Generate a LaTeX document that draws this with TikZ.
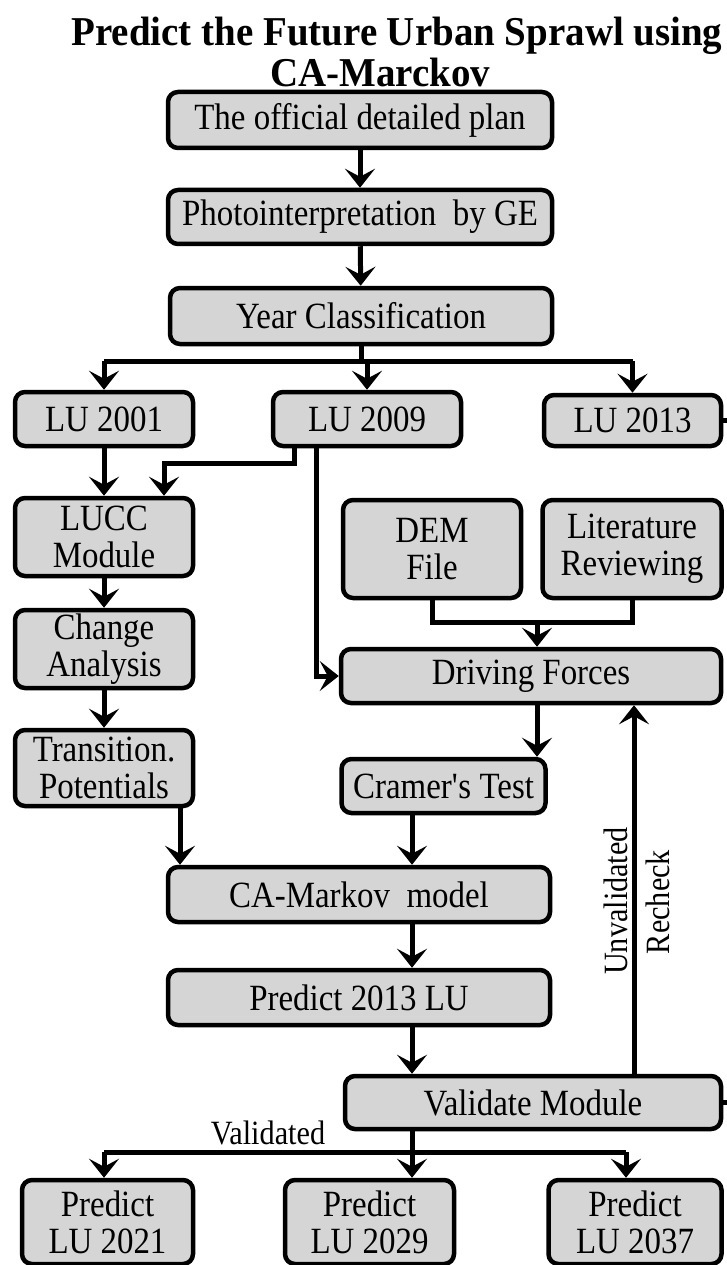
\documentclass[tikz,border=0pt]{standalone}
\usepackage{fontspec}
\setmainfont{Liberation Serif}[FakeStretch=0.89]
\newfontfamily\titlefont{Liberation Serif}[FakeStretch=0.95]
\usetikzlibrary{arrows.meta}
\definecolor{boxgray}{RGB}{213,213,213}
\begin{document}
\begin{tikzpicture}[x=1pt,y=-1pt,
  box/.style={draw, line width=4.5pt, rounded corners=10pt, fill=boxgray, align=center,
    font=\fontsize{37}{37}\selectfont, inner sep=0pt},
  sz/.style 2 args={minimum width=#1pt, minimum height=#2pt},
  conn/.style={line width=5pt},
  arr/.style={conn, -{Stealth[length=19pt,width=30pt,inset=8pt]}},
  lab/.style={font=\fontsize{34}{36}\selectfont, inner sep=0pt},
  ttl/.style={font=\titlefont\fontsize{41}{42}\selectfont\bfseries, inner sep=0pt, anchor=base}]
\useasboundingbox (0,0) rectangle (726,1265);

% title
\node[ttl] (t1) at (397,46) {Predict the Future Urban Sprawl using};
\node[ttl] (t2) at (380,87) {CA-Marckov};

% boxes
\node[box, sz={384}{56}] (A) at (360,120) {The official detailed plan};
\node[box, sz={384}{54}] (B) at (360,217) {Photointerpretation\ \ by GE};
\node[box, sz={382}{56}] (C) at (361,316) {Year Classification};
\node[box, sz={178}{54}] (L01) at (104,419) {LU 2001};
\node[box, sz={188}{54}] (L09) at (367,419) {LU 2009};
\node[box, sz={177}{51}] (L13) at (632.5,420.5) {LU 2013};
\node[box, sz={178}{78}] (LUCC) at (104,537) {LUCC\\Module};
\node[box, sz={178}{78}] (CH) at (104,649) {Change\\Analysis};
\node[box, sz={178}{76}] (TP) at (104,768) {Transition.\\Potentials};
\node[box, sz={178}{98}] (DEM) at (432,549) {DEM\\File};
\node[box, sz={179}{98}] (LIT) at (632,549) {Literature\\Reviewing};
\node[box, sz={380}{54}] (DF) at (531,676) {Driving Forces};
\node[box, sz={204}{54}] (CR) at (443.5,786) {Cramer\textquotesingle s Test};
\node[box, sz={382}{55}] (CAM) at (359,894.5) {CA-Markov\ \ model};
\node[box, sz={382}{55}] (P13) at (359,997.5) {Predict 2013 LU};
\node[box, sz={376}{53}] (VAL) at (533,1102.5) {Validate Module};
\node[box, sz={171}{84}] (P21) at (107.5,1222) {Predict\\LU 2021};
\node[box, sz={169}{84}] (P29) at (369.5,1222) {Predict\\LU 2029};
\node[box, sz={173}{84}] (P37) at (635,1222) {Predict\\LU 2037};

% helper coordinates
\coordinate (br1) at (363,361);
\coordinate (j1) at (294,463);
\coordinate (j2) at (164,463);
\coordinate (j3) at (316,680);
\coordinate (j4) at (537,622);
\coordinate (x180) at (180,0);
\coordinate (x412) at (412,0);
\coordinate (x634) at (634,0);
\coordinate (br2) at (412,1152);
\coordinate (x104) at (104,0);
\coordinate (x626) at (626,0);

% connectors
\draw[arr] (A) -- (B);
\draw[arr] (B) -- (C);
\draw[conn] (C.south) -- (C.south |- br1);
\draw[conn] (L01.north |- br1) -- (L13.north |- br1);
\draw[arr] (L01.north |- br1) -- (L01.north);
\draw[arr] (L09.north |- br1) -- (L09.north);
\draw[arr] (L13.north |- br1) -- (L13.north);
\draw[arr] (L01) -- (LUCC);
\draw[arr] (L09.south -| j1) -- (j1) -- (j2) -- (LUCC.north -| j2);
\draw[arr] (L09.south -| j3) |- (DF.west);
\draw[arr] (LUCC) -- (CH);
\draw[arr] (CH) -- (TP);
\draw[conn] (DEM.south) |- (LIT.south |- j4) -- (LIT.south);
\draw[arr] (j4) -- (DF.north -| j4);
\draw[arr] (DF.south -| j4) -- (CR.north -| j4);
\draw[arr] (CR.south -| x412) -- (CAM.north -| x412);
\draw[arr] (TP.south -| x180) -- (CAM.north -| x180);
\draw[arr] (CAM.south -| x412) -- (P13.north -| x412);
\draw[arr] (P13.south -| x412) -- (VAL.north -| x412);
\draw[arr] (VAL.north -| x634) -- (DF.south -| x634);
\draw[conn] (VAL.south -| br2) -- (br2);
\draw[conn] (x104 |- br2) -- (x626 |- br2);
\draw[arr] (x104 |- br2) -- (P21.north -| x104);
\draw[arr] (br2) -- (P29.north -| br2);
\draw[arr] (x626 |- br2) -- (P37.north -| x626);
\draw[conn] (L13.east) -- ++(12,0);
\draw[conn] (VAL.east) -- ++(12,0);

% labels
\node[lab, rotate=90] (unv) at (616,901) {Unvalidated};
\node[lab, rotate=90] (rec) at (658,902) {Recheck};
\node[lab] (vld) at (268,1133) {Validated};
\end{tikzpicture}
\end{document}
